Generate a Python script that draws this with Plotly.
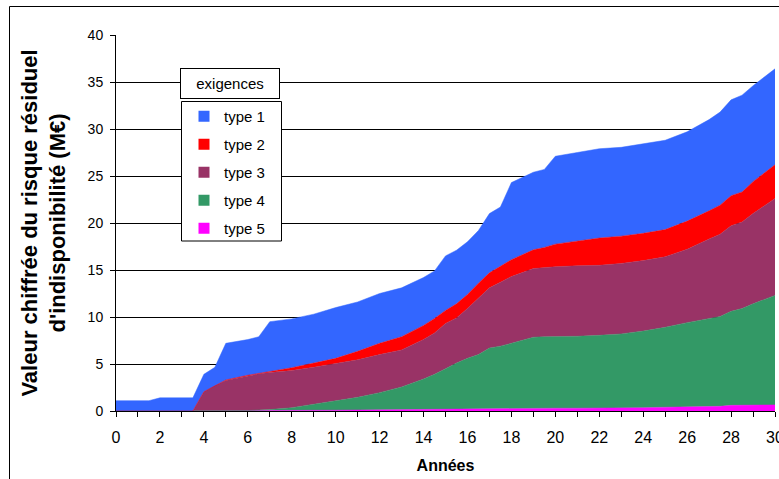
import plotly.graph_objects as go

annees = [0, 1.5, 2, 3.5, 4, 4.5, 5, 6, 6.5, 7, 8, 9, 10, 11, 12, 13, 14, 14.5, 15, 15.5,
          16, 16.5, 17, 17.5, 18, 19, 19.5, 20, 21, 22, 23, 24, 25, 26, 27, 27.5, 28, 28.5, 29, 30]

type5 = [0, 0, 0, 0, 0, 0, 0, 0, 0.02, 0.03, 0.05, 0.07, 0.08, 0.1, 0.12, 0.14, 0.17, 0.2, 0.25, 0.27,
         0.28, 0.29, 0.3, 0.3, 0.3, 0.3, 0.3, 0.3, 0.3, 0.3, 0.32, 0.35, 0.4, 0.42, 0.45, 0.5, 0.6, 0.6, 0.62, 0.65]
type4 = [0, 0, 0, 0, 0, 0, 0, 0.05, 0.08, 0.12, 0.3, 0.63, 0.97, 1.35, 1.83, 2.41, 3.23, 3.7, 4.25, 4.83,
         5.32, 5.71, 6.4, 6.6, 6.9, 7.55, 7.6, 7.6, 7.65, 7.75, 7.88, 8.15, 8.5, 8.98, 9.4, 9.55, 10.0, 10.3, 10.78, 11.65]
type3 = [0, 0, 0, 0, 2.05, 2.7, 3.25, 3.7, 3.85, 3.95, 3.95, 3.95, 4.0, 4.0, 4.05, 3.95, 4.2, 4.4, 4.8, 4.8,
         5.3, 6.0, 6.4, 6.8, 7.1, 7.3, 7.35, 7.45, 7.5, 7.45, 7.5, 7.5, 7.5, 7.8, 8.45, 8.75, 9.1, 9.2, 9.6, 10.3]
type2 = [0, 0, 0, 0, 0, 0, 0.05, 0.05, 0.05, 0.15, 0.3, 0.45, 0.55, 0.9, 1.2, 1.4, 1.5, 1.55, 1.4, 1.5,
         1.5, 1.6, 1.6, 1.7, 1.8, 2.0, 2.15, 2.4, 2.65, 2.9, 2.9, 2.9, 2.9, 3.0, 3.0, 3.1, 3.2, 3.2, 3.4, 3.6]
type1 = [1.1, 1.1, 1.4, 1.4, 1.85, 1.95, 3.9, 3.8, 3.9, 5.25, 5.2, 5.2, 5.4, 5.25, 5.3, 5.2, 5.1, 5.05, 5.8, 5.7,
         5.6, 5.6, 6.3, 6.3, 8.2, 8.25, 8.3, 9.35, 9.4, 9.5, 9.45, 9.5, 9.5, 9.5, 9.7, 9.9, 10.2, 10.3, 10.2, 10.2]

series_names = ["type 1", "type 2", "type 3", "type 4", "type 5"]
series_values = [type1, type2, type3, type4, type5]
colors = ["#3366FF", "#FF0000", "#993366", "#339966", "#FF00FF"]

x_ticks = list(range(0, 31, 2))
y_ticks = list(range(0, 41, 5))

FONT = "Arial, Liberation Sans, sans-serif"
NARROW = "Liberation Sans Narrow, Arial Narrow, Arial, sans-serif"

fig = go.Figure()

# stacked areas: bottom (type 5) first
for name, vals, col in reversed(list(zip(series_names, series_values, colors))):
    fig.add_trace(go.Scatter(
        x=annees, y=vals, name=name, mode="lines", stackgroup="one",
        line=dict(width=0.5, color=col), fillcolor=col, showlegend=False,
        hoverinfo="x+y+name"))

# legend entries with square swatches
for name, col in zip(series_names, colors):
    fig.add_trace(go.Scatter(
        x=[None], y=[None], mode="markers", name=name, legendgroup=name,
        marker=dict(symbol="square", size=11, color=col), showlegend=True))

L, R, T, B = 116, 4, 35, 68
W, H = 779, 479
pw, ph = W - L - R, H - T - B

def px(xp):
    return (xp - L) / pw

def py(yp):
    return (H - B - yp) / ph

fig.update_layout(
    width=W, height=H,
    margin=dict(l=L, r=R, t=T, b=B, autoexpand=False),
    paper_bgcolor="white", plot_bgcolor="white",
    font=dict(family=FONT, size=14, color="black"),
    showlegend=True,
    legend=dict(
        x=px(184), y=py(100), xanchor="left", yanchor="top",
        bgcolor="rgba(0,0,0,0)", borderwidth=0,
        traceorder="grouped", tracegroupgap=5.5, itemwidth=30,
        font=dict(family=FONT, size=15, color="black")),
    xaxis=dict(
        range=[0, 30], tickvals=x_ticks, ticktext=[str(v) for v in x_ticks],
        ticks="outside", ticklen=5, tickcolor="black", showgrid=False,
        showline=True, linecolor="black", linewidth=1, zeroline=False, automargin=False,
        ticklabeloverflow="allow",
        minor=dict(dtick=1, tick0=0, ticks="outside", ticklen=5, tickcolor="black", showgrid=False),
        tickfont=dict(family=NARROW, size=16), ticklabelstandoff=7,
        title=dict(text="Années", font=dict(family=FONT, size=16, weight="bold"), standoff=14)),
    yaxis=dict(
        range=[0, 40], tickvals=y_ticks, ticks="outside", ticklen=5, tickcolor="black",
        showgrid=True, gridcolor="black", gridwidth=1,
        showline=True, linecolor="black", linewidth=1, zeroline=False, automargin=False,
        tickfont=dict(family=FONT, size=14), ticklabelstandoff=4,
        title=dict(text="Valeur chiffrée du risque résiduel<br>d'indisponibilité (M€)",
                   font=dict(family=FONT, size=22, weight="bold"), standoff=15)),
    shapes=[
        dict(type="rect", xref="paper", yref="paper",
             x0=px(9.5), x1=1.5, y0=-0.5, y1=py(6.5),
             line=dict(color="black", width=1), fillcolor="rgba(0,0,0,0)", layer="below"),
        dict(type="rect", xref="paper", yref="paper",
             x0=px(181.5), x1=px(281.5), y0=py(241), y1=py(101.5),
             line=dict(color="black", width=1), fillcolor="white", layer="above"),
    ],
    annotations=[
        dict(text="exigences", xref="paper", yref="paper", x=px(229.5), y=py(83.5),
             xanchor="center", yanchor="middle", showarrow=False,
             font=dict(family=FONT, size=15, color="black"),
             bgcolor="white", bordercolor="black", borderwidth=1, borderpad=2,
             width=94, height=25),
    ],
)

fig.write_html("out.html", config={"displayModeBar": False},
               post_script="document.body.style.margin='0px';document.body.style.padding='0px';")
